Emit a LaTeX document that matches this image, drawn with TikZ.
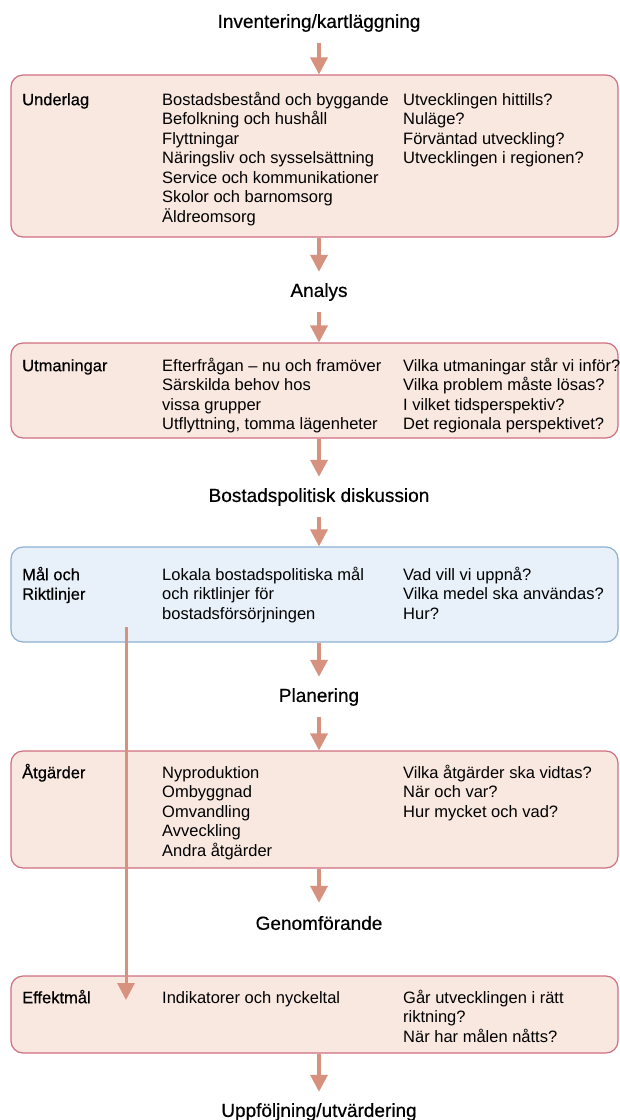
\documentclass[tikz,border=0pt]{standalone}
\usepackage{fontspec}
\setmainfont{Liberation Sans}
\newfontfamily\medfont[FakeBold=0.5]{Liberation Sans}
\usetikzlibrary{arrows.meta}
\definecolor{peach}{RGB}{249,232,224}
\definecolor{peachline}{RGB}{206,110,128}
\definecolor{bluefill}{RGB}{232,240,249}
\definecolor{blueline}{RGB}{140,176,210}
\definecolor{arrowc}{RGB}{214,146,126}
\newcommand\tstrut{\rule{0pt}{16pt}}
\begin{document}
\begin{tikzpicture}[x=1pt,y=-1pt,
 box/.style={draw=peachline, fill=peach, line width=1.2pt, rounded corners=12pt, minimum width=607pt, inner sep=0pt},
 bluebox/.style={box, draw=blueline, fill=bluefill},
 title/.style={font=\medfont\fontsize{19}{22}\selectfont, minimum height=40pt, inner sep=0pt},
 lbl/.style={anchor=north west, inner sep=0pt, align=left, font=\medfont\fontsize{16.5}{19.5}\selectfont},
 txt/.style={anchor=north west, inner sep=0pt, align=left, font=\fontsize{16.5}{19.5}\selectfont},
 arr/.style={draw=arrowc, line width=3.5pt, -{Triangle[width=17pt,length=17pt]}}
]
\useasboundingbox (0,0) rectangle (619,1120);

% text tops = first baseline - 16
\node[title] (t1) at (319,23) {Inventering/kartläggning};
\node[box, minimum height=162pt] (b1) at (314.5,156) {};
\node[lbl] (l1) at (22,89) {\tstrut Underlag};
\node[txt] (c1) at (162,89) {\tstrut Bostadsbestånd och byggande\\Befolkning och hushåll\\Flyttningar\\Näringsliv och sysselsättning\\Service och kommunikationer\\Skolor och barnomsorg\\Äldreomsorg};
\node[txt] (q1) at (403,89) {\tstrut Utvecklingen hittills?\\Nuläge?\\Förväntad utveckling?\\Utvecklingen i regionen?};

\node[title] (t2) at (319,292) {Analys};
\node[box, minimum height=95pt] (b2) at (314.5,390.5) {};
\node[lbl] (l2) at (22,355) {\tstrut Utmaningar};
\node[txt] (c2) at (162,355) {\tstrut Efterfrågan – nu och framöver\\Särskilda behov hos\\vissa grupper\\Utflyttning, tomma lägenheter};
\node[txt] (q2) at (403,355) {\tstrut Vilka utmaningar står vi inför?\\Vilka problem måste lösas?\\I vilket tidsperspektiv?\\Det regionala perspektivet?};

\node[title] (t3) at (319,497) {Bostadspolitisk diskussion};
\node[bluebox, minimum height=95pt] (b3) at (314.5,594.5) {};
\node[lbl] (l3) at (22,564) {\tstrut Mål och\\Riktlinjer};
\node[txt] (c3) at (162,564) {\tstrut Lokala bostadspolitiska mål\\och riktlinjer för\\bostadsförsörjningen};
\node[txt] (q3) at (403,564) {\tstrut Vad vill vi uppnå?\\Vilka medel ska användas?\\Hur?};

\node[title] (t4) at (319,697) {Planering};
\node[box, minimum height=117pt] (b4) at (314.5,809.5) {};
\node[lbl] (l4) at (22,762) {\tstrut Åtgärder};
\node[txt] (c4) at (162,762) {\tstrut Nyproduktion\\Ombyggnad\\Omvandling\\Avveckling\\Andra åtgärder};
\node[txt] (q4) at (403,762) {\tstrut Vilka åtgärder ska vidtas?\\När och var?\\Hur mycket och vad?};

\node[title] (t5) at (319,923) {Genomförande};
\node[box, minimum height=77pt] (b5) at (314.5,1014.5) {};
\node[lbl] (l5) at (22,987) {\tstrut Effektmål};
\node[txt] (c5) at (162,987) {\tstrut Indikatorer och nyckeltal};
\node[txt] (q5) at (403,987) {\tstrut Går utvecklingen i rätt\\riktning?\\När har målen nåtts?};

\node[title] (t6) at (319,1112) {Uppföljning/utvärdering};

\draw[arr] (t1.south) -- (t1.south |- b1.north);
\draw[arr] (b1.south -| t2) -- (t2.north);
\draw[arr] (t2.south) -- (t2.south |- b2.north);
\draw[arr] (b2.south -| t3) -- (t3.north);
\draw[arr] (t3.south) -- (t3.south |- b3.north);
\draw[arr] (b3.south -| t4) -- (t4.north);
\draw[arr] (t4.south) -- (t4.south |- b4.north);
\draw[arr] (b4.south -| t5) -- (t5.north);
\draw[arr] (b5.south -| t6) -- (t6.north);

\coordinate (vs) at (126,627);
\coordinate (ve) at (126,1000);
\draw[arr, line width=3pt] (vs) -- (ve);
\end{tikzpicture}
\end{document}
